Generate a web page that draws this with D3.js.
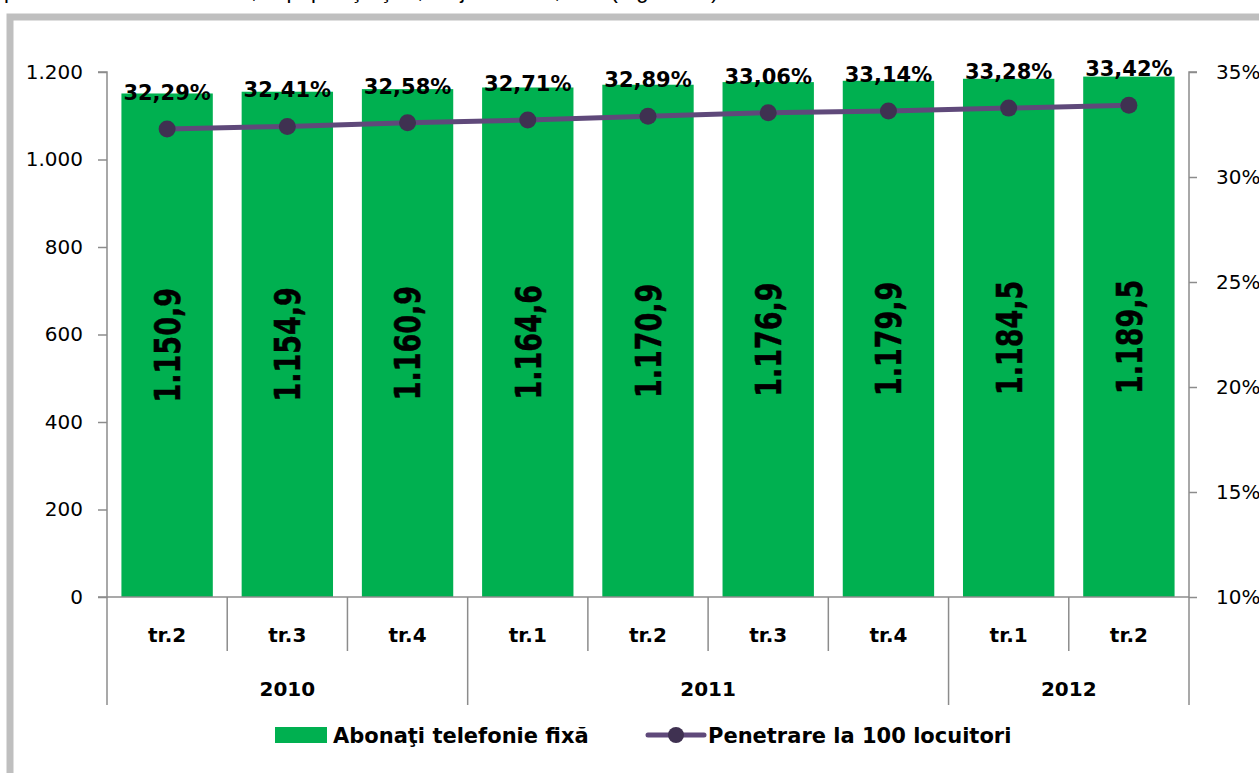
<!DOCTYPE html>
<html>
<head>
<meta charset="utf-8">
<script src="https://cdn.jsdelivr.net/npm/d3@7"></script>
<style>
  body { margin: 0; background: #fff; }
  svg { display: block; }
</style>
</head>
<body>
<svg id="chart"></svg>
<script>
// data
var quarters = ["tr.2", "tr.3", "tr.4", "tr.1", "tr.2", "tr.3", "tr.4", "tr.1", "tr.2"]
var years = [
  {name: "2010", count: 3},
  {name: "2011", count: 4},
  {name: "2012", count: 2}
]
var subscribers = [1150.9, 1154.9, 1160.9, 1164.6, 1170.9, 1176.9, 1179.9, 1184.5, 1189.5]
var penetration = [32.29, 32.41, 32.58, 32.71, 32.89, 33.06, 33.14, 33.28, 33.42]
var leftTicks = [0, 200, 400, 600, 800, 1000, 1200]
var rightTicks = [10, 15, 20, 25, 30, 35]
var seriesNames = ["Abonaţi telefonie fixă", "Penetrare la 100 locuitori"]

var screen = {width: 1259, height: 773}
var margins = {top: 72, right: 70, bottom: 176, left: 107}
var green = "#00b050", lineCol = "#5f497a", dotCol = "#3f3151", axisCol = "#8c8c8c"
var fontReg = "'DejaVu Sans', sans-serif"

var svg = d3.select("#chart").attr("width", screen.width).attr("height", screen.height)

// bit of the paragraph above the chart, mostly cut off by the page edge
svg.append("text")
  .attr("x", 4).attr("y", -2)
  .attr("font-family", "'Liberation Sans', sans-serif")
  .attr("font-size", 22)
  .text("penetrare a telefoniei fixe, la populaţia ţării, a ajuns la 33,42% (Figura 12)")

// grey frame round the chart
svg.append("rect")
  .attr("x", 10).attr("y", 17)
  .attr("width", 1400).attr("height", 900)
  .attr("fill", "none").attr("stroke", "#bfbfbf").attr("stroke-width", 7)

var width = screen.width - margins.left - margins.right
var height = screen.height - margins.top - margins.bottom
var x0 = margins.left, y0 = margins.top + height

var xScale = d3.scaleBand()
  .domain(d3.range(quarters.length))
  .range([margins.left, margins.left + width])
  .paddingInner(0.24)
  .paddingOuter(0.12)

var yScale = d3.scaleLinear().domain([0, 1200]).range([y0, margins.top])
var pScale = d3.scaleLinear().domain([10, 35]).range([y0, margins.top])

// left axis
var yAxis = d3.axisLeft(yScale).tickValues(leftTicks).tickSize(9).tickPadding(15)
  .tickFormat(function(d){ return d3.format(",")(d).replace(/,/g, ".") })
var gl = svg.append("g").attr("transform", "translate(" + x0 + ",0)").call(yAxis)

// right axis
var pAxis = d3.axisRight(pScale).tickValues(rightTicks).tickSize(8).tickPadding(19)
  .tickFormat(function(d){ return d + "%" })
var gr = svg.append("g").attr("transform", "translate(" + (margins.left + width) + ",0)").call(pAxis)

;[gl, gr].forEach(function(g){
  g.selectAll("path").attr("stroke", axisCol).attr("stroke-width", 1.5)
  g.selectAll("line").attr("stroke", axisCol).attr("stroke-width", 1.5)
  g.selectAll("text").attr("font-family", fontReg).attr("font-size", 20).attr("fill", "#000")
})
gl.select("path").attr("d", "M-9," + y0 + "H0V" + margins.top + "H-9")
gr.select("path").attr("d", "M8," + margins.top + "H0V" + y0)

// bars
svg.append("g").selectAll("rect")
  .data(subscribers)
  .enter()
  .append("rect")
  .attr("x", function(d, i){ return xScale(i) })
  .attr("y", function(d){ return yScale(d) })
  .attr("width", xScale.bandwidth())
  .attr("height", function(d){ return y0 - yScale(d) })
  .attr("fill", green)

// value labels inside the bars, rotated
svg.append("g").selectAll("text")
  .data(subscribers)
  .enter()
  .append("text")
  .attr("transform", function(d, i){
    var cx = xScale(i) + xScale.bandwidth() / 2
    var cy = (yScale(d) + y0) / 2
    return "translate(" + cx + "," + cy + ") scale(1.32,1) rotate(-90)"
  })
  .attr("dy", "0.36em")
  .attr("text-anchor", "middle")
  .attr("font-family", "'DejaVu Sans', sans-serif")
  .attr("font-weight", "bold")
  .attr("font-size", 27)
  .attr("stroke", "#000").attr("stroke-width", 0.4)
  .text(function(d){ return d3.format(",.1f")(d).replace(",", "#").replace(".", ",").replace("#", ".") })

// x axis base line and category dividers
var step = xScale.step()
var gx = svg.append("g").attr("stroke", axisCol).attr("stroke-width", 1.5)
gx.append("line").attr("x1", x0).attr("x2", margins.left + width).attr("y1", y0).attr("y2", y0)
var yearEdges = [0]
years.forEach(function(y){ yearEdges.push(yearEdges[yearEdges.length - 1] + y.count) })
d3.range(quarters.length + 1).forEach(function(i){
  var isYear = yearEdges.indexOf(i) >= 0
  gx.append("line")
    .attr("x1", x0 + i * step).attr("x2", x0 + i * step)
    .attr("y1", y0).attr("y2", isYear ? y0 + 108 : y0 + 54)
})

// quarter labels
svg.append("g").selectAll("text")
  .data(quarters)
  .enter()
  .append("text")
  .attr("x", function(d, i){ return x0 + (i + 0.5) * step })
  .attr("y", y0 + 45)
  .attr("text-anchor", "middle")
  .attr("font-family", fontReg).attr("font-weight", "bold").attr("font-size", 20)
  .text(function(d){ return d })

// year labels
svg.append("g").selectAll("text")
  .data(years)
  .enter()
  .append("text")
  .attr("x", function(d, i){ return x0 + (yearEdges[i] + d.count / 2) * step })
  .attr("y", y0 + 99)
  .attr("text-anchor", "middle")
  .attr("font-family", fontReg).attr("font-weight", "bold").attr("font-size", 20)
  .text(function(d){ return d.name })

// penetration line
var lineGenerator = d3.line()
  .x(function(d, i){ return xScale(i) + xScale.bandwidth() / 2 })
  .y(function(d){ return pScale(d) })

svg.append("path")
  .datum(penetration)
  .attr("d", lineGenerator)
  .attr("fill", "none")
  .attr("stroke", lineCol)
  .attr("stroke-width", 5)

svg.append("g").selectAll("circle")
  .data(penetration)
  .enter()
  .append("circle")
  .attr("cx", function(d, i){ return xScale(i) + xScale.bandwidth() / 2 })
  .attr("cy", function(d){ return pScale(d) })
  .attr("r", 8.5)
  .attr("fill", dotCol)

svg.append("g").selectAll("text")
  .data(penetration)
  .enter()
  .append("text")
  .attr("x", function(d, i){ return xScale(i) + xScale.bandwidth() / 2 })
  .attr("y", function(d){ return pScale(d) - 29 })
  .attr("text-anchor", "middle")
  .attr("font-family", fontReg).attr("font-weight", "bold").attr("font-size", 21)
  .text(function(d){ return d.toFixed(2).replace(".", ",") + "%" })

// legend
var lg = svg.append("g").attr("transform", "translate(0,735)")
lg.append("rect").attr("x", 275).attr("y", -8).attr("width", 52).attr("height", 16).attr("fill", green)
lg.append("text").attr("x", 333).attr("y", 0).attr("dy", "0.36em")
  .attr("font-family", fontReg).attr("font-weight", "bold").attr("font-size", 21)
  .text(seriesNames[0])
lg.append("line").attr("x1", 648).attr("x2", 704).attr("y1", 0).attr("y2", 0)
  .attr("stroke", lineCol).attr("stroke-width", 5).attr("stroke-linecap", "round")
lg.append("circle").attr("cx", 676).attr("cy", 0).attr("r", 8).attr("fill", dotCol)
lg.append("text").attr("x", 708).attr("y", 0).attr("dy", "0.36em")
  .attr("font-family", fontReg).attr("font-weight", "bold").attr("font-size", 21)
  .text(seriesNames[1])
</script>
</body>
</html>
